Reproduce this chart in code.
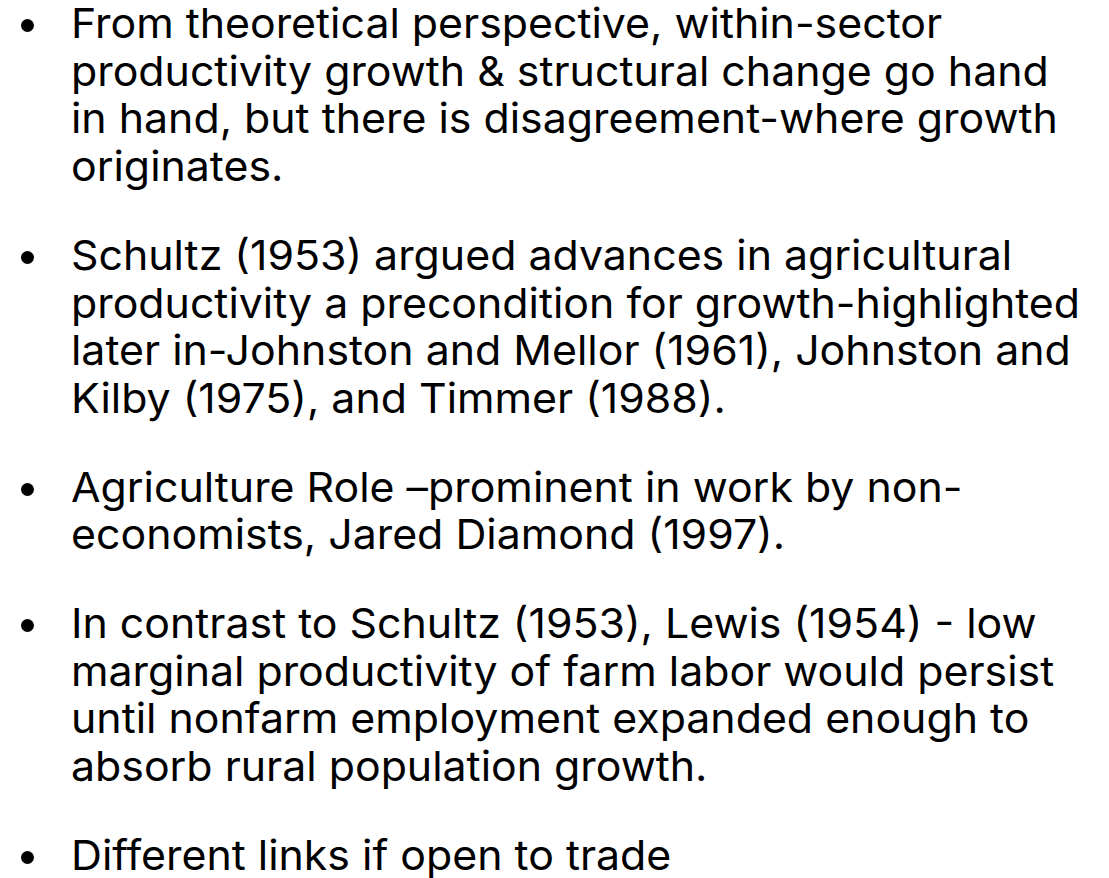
<!DOCTYPE html>
<html>
<head>
<meta charset="utf-8">
<script src="https://cdn.jsdelivr.net/npm/chart.js@4.4.1/dist/chart.umd.min.js"></script>
<style>
  html, body { margin: 0; padding: 0; background: #ffffff; }
  body { width: 1109px; height: 878px; overflow: hidden; position: relative; }
  #slide { position: absolute; left: 0; top: 0; width: 1109px; height: 878px; }
  .line {
    position: absolute;
    left: 71px;
    white-space: nowrap;
    font-family: Inter, "Open Sans", sans-serif;
    font-size: 41px;
    color: #000000;
    transform-origin: 0 0;
    line-height: 1;
  }
  .bullet {
    position: absolute;
    width: 13px; height: 13px;
    border-radius: 50%;
    background: #000000;
  }
</style>
</head>
<body>
<div id="slide"></div>
<script>
// Slide content: one array of lines per bullet paragraph
const paragraph1 = [
  "From theoretical perspective, within-sector",
  "productivity growth & structural change go hand",
  "in hand, but there is disagreement-where growth",
  "originates."
];
const paragraph2 = [
  "Schultz (1953) argued advances in agricultural",
  "productivity a precondition for growth-highlighted",
  "later in-Johnston and Mellor (1961), Johnston and",
  "Kilby (1975), and Timmer (1988)."
];
const paragraph3 = [
  "Agriculture Role \u2013prominent in work by non-",
  "economists, Jared Diamond (1997)."
];
const paragraph4 = [
  "In contrast to Schultz (1953), Lewis (1954) - low",
  "marginal productivity of farm labor would persist",
  "until nonfarm employment expanded enough to",
  "absorb rural population growth."
];
const paragraph5 = [
  "Different links if open to trade"
];
const paragraphs = [paragraph1, paragraph2, paragraph3, paragraph4, paragraph5];

// Layout
const firstBaseline = 38;
const linePitch = 47.7;
const paraGap = 41;
const textLeft = 71;
const targetWidthLine = "productivity a precondition for growth-highlighted";
const targetWidth = 1009;
const fontSize = 41;
const fontFamily = 'Inter, "Open Sans", sans-serif';

const slide = document.getElementById('slide');

function build() {
  const c = document.createElement('canvas').getContext('2d');
  c.font = fontSize + 'px ' + fontFamily;
  const m = c.measureText(targetWidthLine);
  const sx = targetWidth / m.width;
  const ascent = m.fontBoundingBoxAscent || fontSize * 0.97;
  const xh = c.measureText('x');
  const xHeight = xh.actualBoundingBoxAscent || fontSize * 0.55;

  let baseline = firstBaseline;
  paragraphs.forEach((para, pi) => {
    if (pi > 0) baseline += paraGap;
    para.forEach((txt, li) => {
      if (li > 0 || pi > 0) baseline += linePitch;
      const d = document.createElement('div');
      d.className = 'line';
      d.textContent = txt;
      d.style.top = (baseline - ascent) + 'px';
      d.style.lineHeight = 'normal';
      d.style.transform = 'scaleX(' + sx.toFixed(4) + ')';
      slide.appendChild(d);
      if (li === 0) {
        const b = document.createElement('div');
        b.className = 'bullet';
        b.style.left = (27.5 - 6.5) + 'px';
        b.style.top = (baseline - xHeight / 2 - 6.5 - 1) + 'px';
        slide.appendChild(b);
      }
    });
  });
}
if (document.fonts && document.fonts.ready) {
  document.fonts.load(fontSize + 'px Inter').then(build, build);
} else {
  build();
}
</script>
</body>
</html>
